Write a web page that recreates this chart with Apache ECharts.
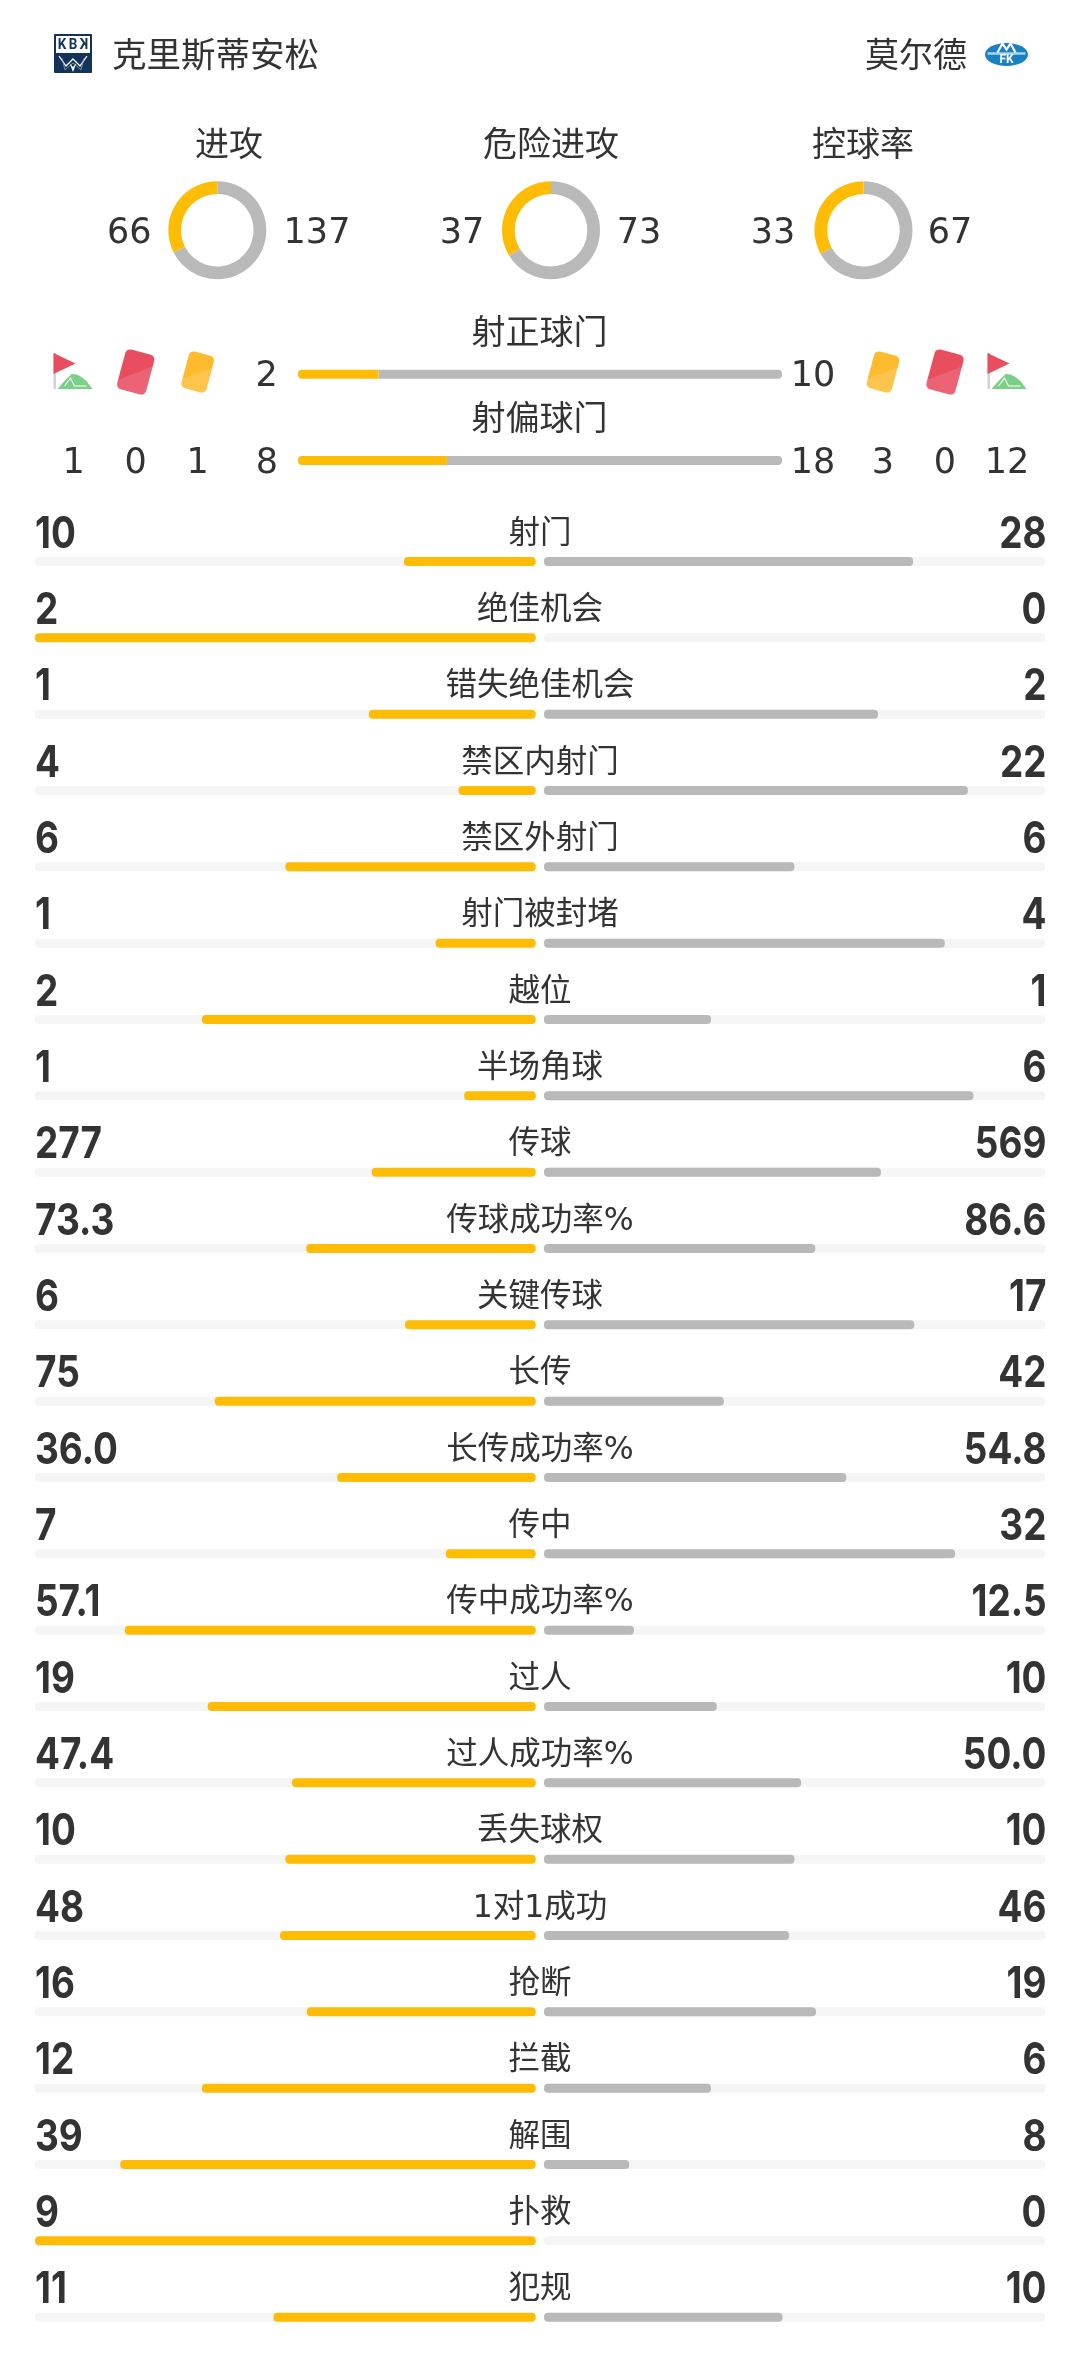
<!DOCTYPE html>
<html><head><meta charset="utf-8">
<style>html,body{margin:0;padding:0;background:#fff}#c{width:1080px;height:2379px}</style>
<script src="https://cdn.jsdelivr.net/npm/echarts@6/dist/echarts.min.js"></script>
</head><body><div id="c"></div>
<script>
const categories=['射门','绝佳机会','错失绝佳机会','禁区内射门','禁区外射门','射门被封堵','越位','半场角球','传球','传球成功率%','关键传球','长传','长传成功率%','传中','传中成功率%','过人','过人成功率%','丢失球权','1对1成功','抢断','拦截','解围','扑救','犯规'];
const homeValues=[10,2,1,4,6,1,2,1,277,73.3,6,75,36.0,7,57.1,19,47.4,10,48,16,12,39,9,11];
const awayValues=[28,0,2,22,6,4,1,6,569,86.6,17,42,54.8,32,12.5,10,50.0,10,46,19,6,8,0,10];
const donutTitles=['进攻','危险进攻','控球率'];
const donutHome=[66,37,33];
const donutAway=[137,73,67];
const shotTitles=['射正球门','射偏球门'];
const shotHome=[2,8];
const shotAway=[10,18];
const cornersHome=1, redHome=0, yellowHome=1;
const yellowAway=3, redAway=0, cornersAway=12;
const homeTeam='克里斯蒂安松', awayTeam='莫尔德';

const GOLD='#FFBC05',GRAY='#B9B9B9',TRACK='#F5F5F5',INK='#333333',NAVY='#14335A';
const CJK='"DejaVu Sans","Noto Sans CJK SC",sans-serif';
const NUM='Inter,Roboto,sans-serif';
const fmt=(v,i)=>categories[i].endsWith('%')?v.toFixed(1):String(v);
const share=(a,b)=>(a+b)?a/(a+b):0;

const t=(x,y,text,size,align,extra)=>({type:'text',x,y:y+4,silent:true,style:Object.assign({text:String(text),fontSize:size,fontFamily:CJK,fill:INK,align:align||'center',verticalAlign:'middle'},extra||{})});

function card(cx,cy,w,h,c1,c2){return {type:'rect',x:cx,y:cy,rotation:-Math.PI/12,shape:{x:-w/2,y:-h/2,width:w,height:h,r:5},silent:true,
  style:{fill:new echarts.graphic.LinearGradient(0,0,1,1,[{offset:0,color:c1},{offset:.52,color:c1},{offset:.52,color:c2},{offset:1,color:c2}])}};}
function flag(x,y){return {type:'group',x,y,silent:true,children:[
  {type:'rect',shape:{x:0,y:0,width:2.4,height:36},style:{fill:'#D0D0D0'}},
  {type:'polygon',shape:{points:[[0,0],[22,10.5],[0,21]]},style:{fill:'#E94E5E'}},
  {type:'polygon',shape:{points:[[4,36],[11,28],[18,21],[23,21.5],[28,24],[33,28],[36,32],[39,36]]},style:{fill:'#7BD088'}},
  {type:'polyline',shape:{points:[[11,33],[17,25],[21,33],[33,33]]},style:{stroke:'#fff',fill:null,lineWidth:1.1}}
]};}
const kLetter=(x,s,c)=>({type:'text',x,y:11,scaleX:s,style:{text:c,fontSize:15,fontWeight:'bold',fontFamily:'Roboto,sans-serif',fill:NAVY,align:'center',verticalAlign:'middle'}});
function kbk(x,y){return {type:'group',x,y,silent:true,children:[
  {type:'rect',shape:{x:0,y:0,width:38,height:39,r:1},style:{fill:NAVY}},
  {type:'rect',shape:{x:2,y:2,width:34,height:17},style:{fill:'#fff'}},
  kLetter(8,.9,'K'),kLetter(19,.9,'B'),kLetter(30,-.9,'K'),
  {type:'polyline',shape:{points:[[5,22],[12,32],[19,25],[26,32],[33,22]]},style:{stroke:'#fff',fill:null,lineWidth:1.3}},
  {type:'polyline',shape:{points:[[8,24],[11,36],[19,29],[27,36],[30,24]]},style:{stroke:'#8FA0B8',fill:null,lineWidth:.8}},
  {type:'polygon',shape:{points:[[15.5,29],[19,38],[22.5,29],[19,33]]},style:{fill:'#fff'}}
]};}
function molde(cx,cy){return {type:'group',x:cx,y:cy,silent:true,children:[
  {type:'ellipse',shape:{cx:0,cy:0,rx:21.5,ry:11.5},style:{fill:'#1B7FC4'}},
  {type:'line',shape:{x1:-19,y1:-1,x2:19,y2:-1},style:{stroke:'#A9D3EE',lineWidth:2.4}},
  {type:'polyline',shape:{points:[[-9,-2],[-4,-11],[0,-5],[4,-11],[9,-2]]},style:{stroke:'#fff',fill:null,lineWidth:2.2}},
  {type:'text',x:0,y:5,style:{text:'FK',fontSize:12,fontWeight:'bold',fontFamily:'Roboto,sans-serif',fill:'#fff',align:'center',verticalAlign:'middle'}}
]};}

const donutCx=[217.3,551,863.5], donutCy=230.2;
const titleCx=[229,551,863];
const leftNumCx=[129.3,462,773], rightNumCx=[317,639,950];
const YELLOW=['#FDBB2D','#FDC54D'], RED=['#E94E5E','#EB6375'];

const graphicEls=[
  kbk(54,34),
  t(112,54,homeTeam,34.5,'left'),
  t(967,54,awayTeam,34,'right'),
  molde(1006.5,54.5),
  t(539.5,331,shotTitles[0],34),
  t(539.5,417,shotTitles[1],34),
  flag(53.5,353),card(135.7,372,30,41,...RED),card(197.7,372,26,38,...YELLOW),
  card(883,372,26,38,...YELLOW),card(945,372,30,41,...RED),flag(987.5,353),
  t(266.7,373,shotHome[0],35),t(813,373,shotAway[0],35),
  t(73.7,460,cornersHome,35),t(135.7,460,redHome,35),t(197.7,460,yellowHome,35),t(267,460,shotHome[1],35),
  t(813,460,shotAway[1],35),t(883,460,yellowAway,35),t(945,460,redAway,35),t(1007,460,cornersAway,35)
];
donutTitles.forEach((n,i)=>{
  graphicEls.push(t(titleCx[i],143,n,34));
  graphicEls.push(t(leftNumCx[i],230,donutHome[i],35));
  graphicEls.push(t(rightNumCx[i],230,donutAway[i],35));
});

const rowIdx=categories.map((_,i)=>i);
const series=[];
donutHome.forEach((h,i)=>series.push({type:'pie',silent:true,radius:[36.3,49],center:[donutCx[i],donutCy],startAngle:90,clockwise:true,label:{show:false},labelLine:{show:false},
  data:[{value:donutAway[i],itemStyle:{color:GRAY}},{value:h,itemStyle:{color:GOLD}}]}));
// stats rows
series.push({type:'bar',xAxisIndex:0,yAxisIndex:0,barWidth:9,silent:true,showBackground:true,backgroundStyle:{color:TRACK,borderRadius:4},itemStyle:{color:GOLD,borderRadius:4},data:homeValues.map((v,i)=>share(v,awayValues[i]))});
series.push({type:'bar',xAxisIndex:1,yAxisIndex:1,barWidth:9,silent:true,showBackground:true,backgroundStyle:{color:TRACK,borderRadius:4},itemStyle:{color:GRAY,borderRadius:4},data:awayValues.map((v,i)=>share(v,homeValues[i]))});
// shots
series.push({type:'bar',xAxisIndex:3,yAxisIndex:3,stack:'s',barWidth:9,silent:true,itemStyle:{color:GOLD,borderRadius:[4,0,0,4]},data:shotHome.map((v,i)=>share(v,shotAway[i]))});
series.push({type:'bar',xAxisIndex:3,yAxisIndex:3,stack:'s',barWidth:9,silent:true,itemStyle:{color:GRAY,borderRadius:[0,4,4,0]},data:shotAway.map((v,i)=>share(v,shotHome[i]))});
// row text, placed through the row grid's scales
const rowText=(xv,text,align,size,family,weight,dx,dy,sx)=>({type:'custom',xAxisIndex:2,yAxisIndex:2,silent:true,clip:false,
  data:rowIdx.map(i=>[xv,i]),
  renderItem:(params,api)=>{const p=api.coord([api.value(0),api.value(1)]);
    return {type:'text',x:p[0]+dx,y:p[1]+dy,scaleX:sx,silent:true,style:{text:text(params.dataIndex),fontSize:size,fontFamily:family,fontWeight:weight,fill:INK,align,verticalAlign:'middle'}};}});
series.push(rowText(0,i=>fmt(homeValues[i],i),'left',44,NUM,700,0,-27,.84));
series.push(rowText(1,i=>fmt(awayValues[i],i),'right',44,NUM,700,1.5,-27,.84));
series.push(rowText(.5,i=>categories[i],'center',31.5,CJK,400,0,-27,1));

const hiddenVal=(idx,inv)=>({type:'value',gridIndex:idx,min:0,max:1,inverse:!!inv,show:false});
const hiddenCat=(idx,n)=>({type:'category',gridIndex:idx,inverse:true,show:false,data:n});

const chart=echarts.init(document.getElementById('c'),null,{renderer:'canvas'});
const rowTop=523.3,rowH=1832;
chart.setOption({
  animation:false,backgroundColor:'#fff',
  grid:[
    {left:35,width:500.7,top:rowTop,height:rowH},
    {left:544,width:501,top:rowTop,height:rowH},
    {left:35,width:1010,top:rowTop,height:rowH},
    {left:298,width:484,top:331,height:172.8}
  ],
  xAxis:[hiddenVal(0,true),hiddenVal(1),hiddenVal(2),hiddenVal(3)],
  yAxis:[hiddenCat(0,categories),hiddenCat(1,categories),hiddenCat(2,rowIdx),hiddenCat(3,shotTitles)],
  series,
  graphic:{elements:graphicEls}
});
</script></body></html>
